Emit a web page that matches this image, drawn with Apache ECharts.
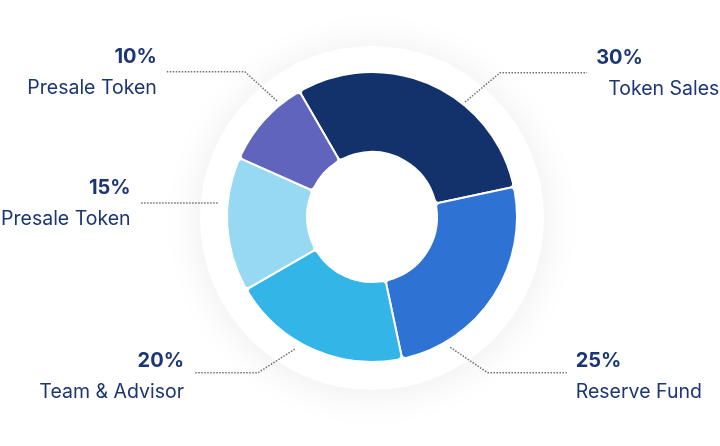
<!DOCTYPE html>
<html>
<head>
<meta charset="utf-8">
<script src="https://cdn.jsdelivr.net/npm/echarts@6/dist/echarts.min.js"></script>
<style>
    html, body { margin: 0; padding: 0; background: #fff; }
    #main { width: 720px; height: 446px; }
</style>
</head>
<body>
<div id="main"></div>
<script>
// 数据
var categories = ['Token Sales', 'Reserve Fund', 'Team & Advisor', 'Presale Token', 'Presale Token'];
var values = [30, 25, 20, 15, 10];
var colors = ['#13316b', '#2e73d3', '#33b5e8', '#97d9f2', '#6064bd'];

// 引导线: [起点角度, 起点半径, 拐点角度, 拐点半径, 水平长度]
var leaders = [
    [51, 148, 48.4, 193, 87],
    [-59, 152, -53.4, 194, 79],
    [-120.3, 153, -126.2, 193, 64],
    [174.8, 155, 174.8, 155, 77],
    [129.3, 150, 131.2, 193, 78]
];

var cx = 372, cy = 217;
var chart = echarts.init(document.getElementById('main'));

function polar(a, r) {
    var rad = a * Math.PI / 180;
    return [cx + r * Math.cos(rad), cy - r * Math.sin(rad)];
}

var pieData = [];
for (var i = 0; i < values.length; i++) {
    pieData.push({ name: categories[i], value: values[i], itemStyle: { color: colors[i] } });
}

var option = {
    animation: false,
    series: [
        {
            // 背景白圆
            type: 'pie',
            z: 0,
            silent: true,
            center: [cx, cy + 1],
            radius: [0, 172],
            label: { show: false },
            labelLine: { show: false },
            itemStyle: {
                color: '#fff',
                shadowBlur: 40,
                shadowColor: 'rgba(0, 0, 0, 0.08)',
                shadowOffsetY: 2
            },
            data: [{ value: 1 }]
        },
        {
            type: 'pie',
            z: 2,
            center: [cx, cy],
            radius: [65, 145],
            startAngle: 120,
            clockwise: true,
            itemStyle: {
                borderColor: '#fff',
                borderWidth: 2,
                borderRadius: 4
            },
            label: {
                show: true,
                position: 'outside',
                fontFamily: 'Inter',
                formatter: function (p) {
                    var key = p.dataIndex === 0 ? 'ni' : 'n';
                    return '{p|' + p.value + '%}\n{' + key + '|' + p.name + '}';
                },
                rich: {
                    p: { fontFamily: 'Inter', fontSize: 20, fontWeight: 'bold', color: '#1c3674', lineHeight: 28 },
                    n: { fontFamily: 'Inter', fontSize: 19.5, color: '#1c3674', lineHeight: 34 },
                    ni: { fontFamily: 'Inter', fontSize: 19.5, color: '#1c3674', lineHeight: 34, padding: [0, 0, 0, 12] }
                }
            },
            labelLine: {
                show: true,
                lineStyle: { color: '#6f6f6f', width: 1.5, type: [1.5, 1.5] }
            },
            labelLayout: function (params) {
                var l = leaders[params.dataIndex];
                var start = polar(l[0], l[1]);
                var bend = polar(l[2], l[3]);
                var right = bend[0] > cx;
                var end = [bend[0] + (right ? l[4] : -l[4]), bend[1]];
                return {
                    x: right ? end[0] + 9 : end[0] - 10,
                    y: end[1] + (end[1] > cy + 50 ? 5 : 2),
                    align: right ? 'left' : 'right',
                    verticalAlign: 'middle',
                    labelLinePoints: [start, bend, end]
                };
            },
            data: pieData
        }
    ]
};
chart.setOption(option);
</script>
</body>
</html>
